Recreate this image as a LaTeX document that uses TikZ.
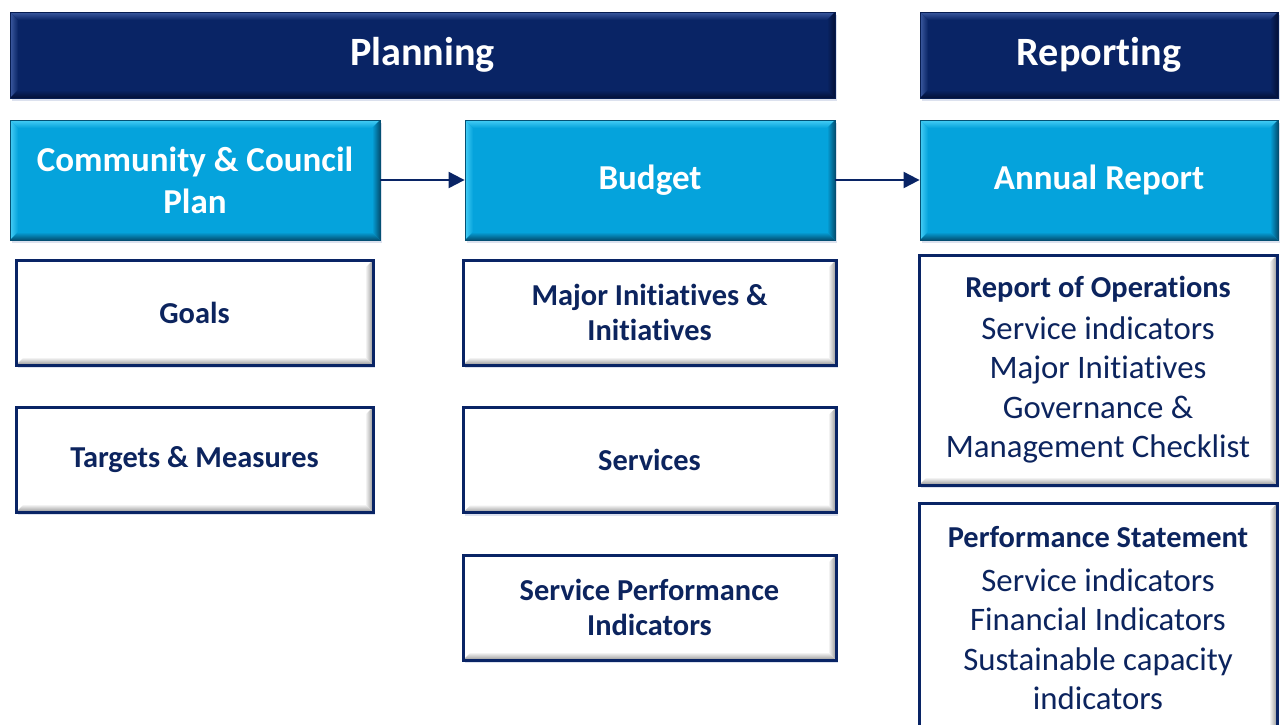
\documentclass[tikz,border=0pt]{standalone}
\usepackage{fontspec}
\setmainfont{Carlito}[Ligatures=NoCommon]
\usetikzlibrary{arrows.meta,shadows}
\definecolor{navyh}{RGB}{9,36,101}
\definecolor{navyl}{RGB}{60,90,160}
\definecolor{navyd}{RGB}{3,16,55}
\definecolor{bluec}{RGB}{5,163,220}
\definecolor{bluel}{RGB}{70,205,245}
\definecolor{blued}{RGB}{4,80,115}
\definecolor{txtnavy}{RGB}{12,36,94}
\definecolor{greyd}{RGB}{150,150,150}
\tikzset{
  bevel/.style n args={4}{path picture={
    \coordinate (pNW) at (path picture bounding box.north west);
    \coordinate (pNE) at (path picture bounding box.north east);
    \coordinate (pSW) at (path picture bounding box.south west);
    \coordinate (pSE) at (path picture bounding box.south east);
    \shade[top color=#2,bottom color=#1] (pNW) -- (pNE) -- ([xshift=-#4,yshift=-#4]pNE) -- ([xshift=#4,yshift=-#4]pNW) -- cycle;
    \shade[left color=#2,right color=#1] (pNW) -- ([xshift=#4,yshift=-#4]pNW) -- ([xshift=#4,yshift=#4]pSW) -- (pSW) -- cycle;
    \shade[top color=#1,bottom color=#3] (pSW) -- (pSE) -- ([xshift=-#4,yshift=#4]pSE) -- ([xshift=#4,yshift=#4]pSW) -- cycle;
    \shade[left color=#1,right color=#3] (pNE) -- ([xshift=-#4,yshift=-#4]pNE) -- ([xshift=-#4,yshift=#4]pSE) -- (pSE) -- cycle;
  }},
  shade box/.style={drop shadow={shadow xshift=1pt,shadow yshift=-1.5pt,opacity=0.18,fill=navyl}},
  headbox/.style={shade box,fill=navyh,draw=navyh!80!black,line width=0.4pt,
    bevel={navyh}{navyl}{navyd}{4pt},
    text=white,font=\fontsize{20.1}{24}\selectfont\bfseries,align=center,
    minimum height=43pt,inner sep=0pt},
  bluebox/.style={shade box,fill=bluec,draw=blued,line width=0.4pt,
    bevel={bluec}{bluel}{blued}{4pt},
    text=white,font=\fontsize{17.5}{21}\selectfont\bfseries,align=center,
    minimum height=60pt,inner sep=0pt},
  whitebox/.style={shade box,fill=white,draw=navyh,line width=1.5pt,
    bevel={white}{white}{greyd}{4pt},
    text=txtnavy,font=\fontsize{15.2}{17.5}\selectfont\bfseries,align=center,
    minimum height=52.5pt,inner sep=0pt},
  listbox/.style={whitebox,font=\fontsize{15.2}{19.75}\selectfont\bfseries},
  conn/.style={draw=navyh,line width=1pt,-{Triangle[length=8pt,width=8pt]}},
}
\newcommand\bl[1]{{\fontsize{16.4}{19.75}\selectfont\mdseries #1}}
\begin{document}
\begin{tikzpicture}[x=0.5pt,y=-0.5pt]
\useasboundingbox (0,0) rectangle (1280,724);
\clip (0,0) rectangle (1280,724);
% headers
\node[headbox,minimum width=412.5pt] (planning) at (422.5,55) {\raisebox{-1.5pt}{Planning}};
\node[headbox,minimum width=179pt] (reporting) at (1099,55) {\raisebox{-1.5pt}{Reporting}};
% blue row
\node[bluebox,minimum width=185pt] (ccp) at (195,180) {Community \& Council\\Plan};
\node[bluebox,minimum width=185pt] (budget) at (650,180) {\raisebox{-1pt}{Budget}};
\node[bluebox,minimum width=179pt] (annual) at (1099,180) {\raisebox{-1pt}{Annual Report}};
% white boxes
\node[whitebox,minimum width=178.5pt] (goals) at (194.5,312.5) {Goals};
\node[whitebox,minimum width=178.5pt] (targets) at (194.5,459.5) {Targets \& Measures};
\node[whitebox,minimum width=186.5pt] (major) at (649.5,312.5) {Major Initiatives \&\\Initiatives};
\node[whitebox,minimum width=186.5pt] (services) at (649.5,460) {Services};
\node[whitebox,minimum width=186.5pt] (spi) at (649.5,607.5) {Service Performance\\Indicators};
\node[listbox,minimum width=179pt,minimum height=115pt] (roo) at (1098,370)
  {Report of Operations\\[1pt]\bl{Service indicators}\\\bl{Major Initiatives}\\\bl{Governance \&}\\\bl{Management Checklist}};
\node[listbox,minimum width=179pt,minimum height=115pt,anchor=north] (ps) at (1098,502)
  {Performance Statement\\[2pt]\bl{Service indicators}\\\bl{Financial Indicators}\\\bl{Sustainable capacity}\\\bl{indicators}};
% connectors
\draw[conn] (ccp.east) -- (budget.west);
\draw[conn] (budget.east) -- (annual.west);
\end{tikzpicture}
\end{document}
